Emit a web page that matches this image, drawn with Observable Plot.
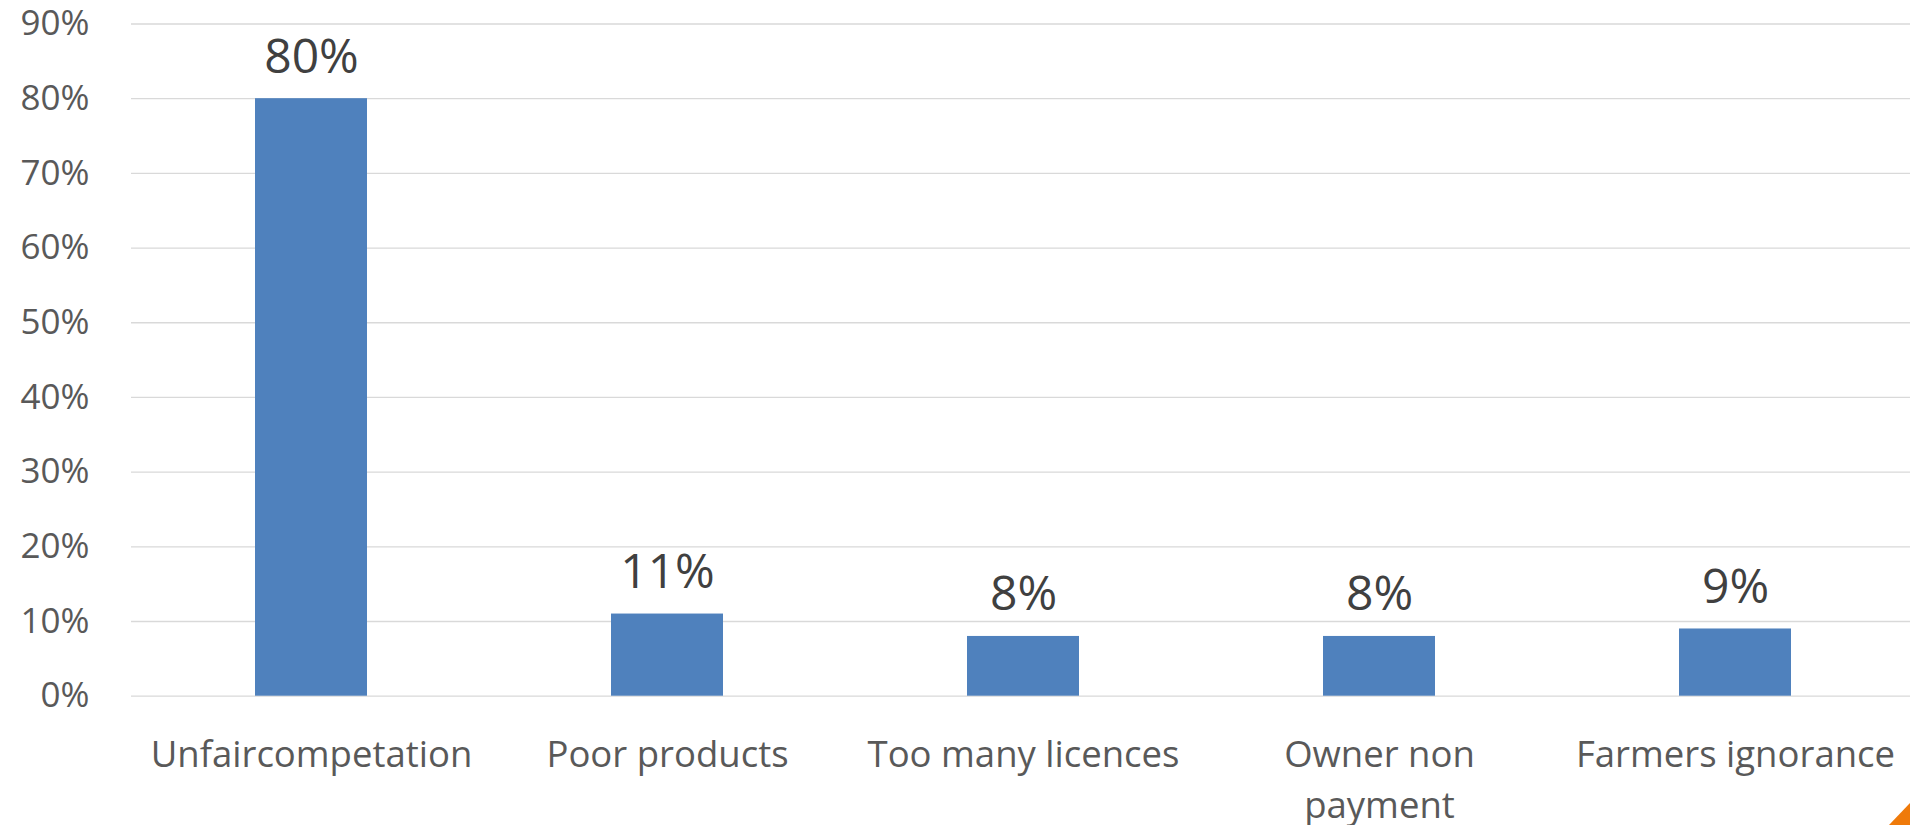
<!DOCTYPE html>
<html>
<head>
<meta charset="utf-8">
<script src="https://cdn.jsdelivr.net/npm/d3@7"></script>
<script src="https://cdn.jsdelivr.net/npm/@observablehq/plot@0.6"></script>
<style>
  html, body { margin: 0; padding: 0; background: #fff; overflow: hidden; }
  #wrap { position: relative; width: 1910px; height: 825px; }
  #corner { position: absolute; right: 0; bottom: 0; width: 21px; height: 22px;
            background: #EF7A0A; clip-path: polygon(100% 0, 100% 100%, 0 100%); }
</style>
</head>
<body>
<div id="wrap"><div id="corner"></div></div>
<script>
const categories = ["Unfaircompetation", "Poor products", "Too many licences", "Owner non payment", "Farmers ignorance"];
const tickLabels = ["Unfaircompetation", "Poor products", "Too many licences", "Owner non\npayment", "Farmers ignorance"];
const values = [0.80, 0.11, 0.08, 0.08, 0.09];
const yTicks = [0, 0.1, 0.2, 0.3, 0.4, 0.5, 0.6, 0.7, 0.8, 0.9];

const data = categories.map((c, i) => ({category: c, value: values[i]}));
const labelOf = new Map(categories.map((c, i) => [c, tickLabels[i]]));
const pct = d => Math.round(d * 100) + "%";

const chart = Plot.plot({
  width: 1910,
  height: 825,
  marginLeft: 131,
  marginRight: 0,
  marginTop: 23.5,
  marginBottom: 129.3,
  style: {fontFamily: "'Open Sans', sans-serif", background: "transparent"},
  x: {domain: categories, range: [131, 1915], paddingInner: 0.686, paddingOuter: 0.343, axis: null, label: null},
  y: {domain: [0, 0.9], axis: null, label: null},
  marks: [
    Plot.gridY(yTicks, {stroke: "#d9d9d9", strokeOpacity: 1, strokeWidth: 1.3}),
    Plot.barY(data, {x: "category", y: "value", fill: "#4F81BD"}),
    Plot.text(data, {x: "category", y: "value", text: d => pct(d.value), lineAnchor: "bottom", dy: -26, fontSize: 48, fill: "#404040"}),
    Plot.axisY(yTicks, {tickSize: 0, tickPadding: 42, tickFormat: pct, fontSize: 35, fill: "#595959", label: null}),
    Plot.axisX({tickSize: 0, tickPadding: 33.5, tickFormat: c => labelOf.get(c), fontSize: 36.5, fill: "#595959", lineHeight: 1.42, label: null})
  ]
});
document.getElementById("wrap").prepend(chart);
chart.style.position = "absolute";
chart.style.left = "0";
chart.style.top = "0";
</script>
</body>
</html>
